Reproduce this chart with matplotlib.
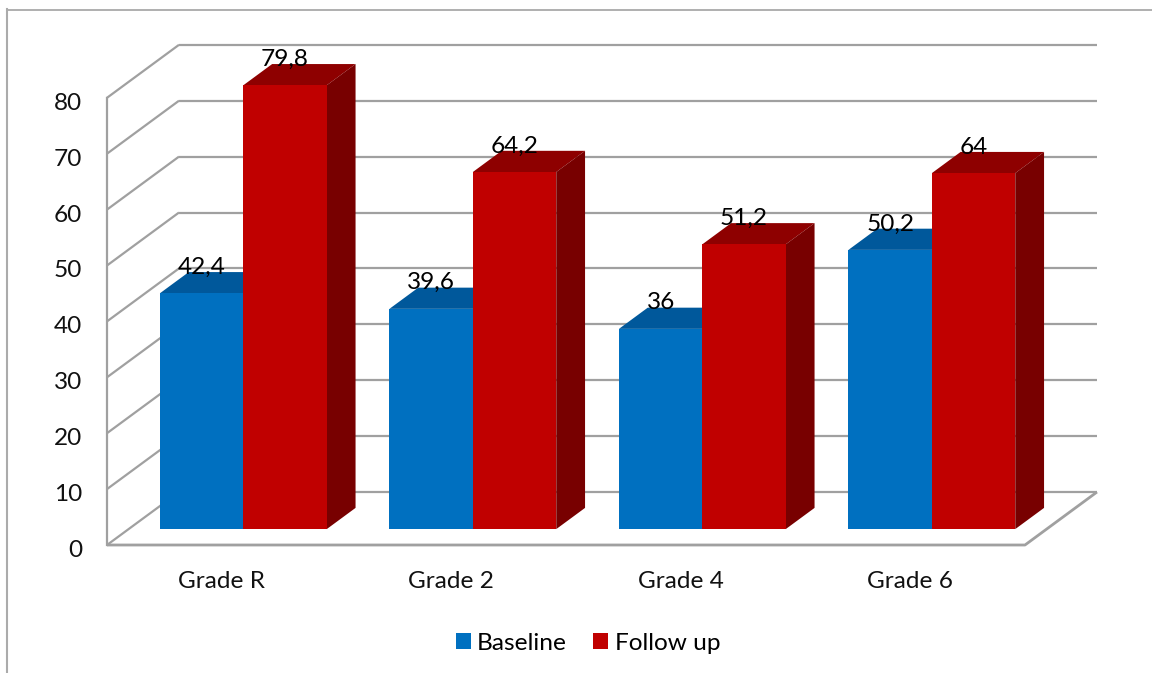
# Grouped pseudo-3D bar chart of baseline and follow up scores per grade
import numpy as np
import matplotlib
matplotlib.use('Agg')
import matplotlib.pyplot as plt
from matplotlib.lines import Line2D
from matplotlib.patches import Patch, Polygon
from matplotlib.transforms import ScaledTranslation

grades = ['Grade R', 'Grade 2', 'Grade 4', 'Grade 6']
baseline = [42.4, 39.6, 36, 50.2]
follow_up = [79.8, 64.2, 51.2, 64]
value_labels_base = ['42,4', '39,6', '36', '50,2']
value_labels_follow = ['79,8', '64,2', '51,2', '64']
y_ticks = [0, 10, 20, 30, 40, 50, 60, 70, 80]

W, H = 1152, 673
plt.rcParams['font.family'] = ['Lato', 'DejaVu Sans']
font_size = 17.6

fig = plt.figure(figsize=(W / 100, H / 100), dpi=100)
ax = fig.add_axes([107 / W, 1 - 545 / H, (1096 - 107) / W, 500 / H])

# axes limits: 229.5 px per category, 5.59 px per value unit
px_x = 229.5
px_y = 5.59
ax.set_xlim(-0.5, -0.5 + (1096 - 107) / px_x)
ax.set_ylim(0, 500 / px_y)

# oblique depth of the chart box and where the bars sit inside it
depth_x = 72 / px_x
depth_y = 53 / px_y
bar_start = 0.30
bar_depth = 0.40
bar_width = 83.4 / px_x
bar_scale = 0.995

grid_color = '#A0A0A0'
grid_lw = 1.6
x_right = len(grades) - 0.5

# back wall, side wall and floor
for t in y_ticks:
    ax.plot([-0.5 + depth_x, x_right + depth_x], [t + depth_y, t + depth_y],
            color=grid_color, lw=grid_lw, clip_on=False, zorder=1, solid_capstyle='butt')
    ax.plot([-0.5, -0.5 + depth_x], [t, t + depth_y],
            color=grid_color, lw=grid_lw, clip_on=False, zorder=1, solid_capstyle='butt')
ax.plot([-0.5, -0.5], [0, y_ticks[-1]], color=grid_color, lw=grid_lw, clip_on=False, zorder=1)
ax.plot([-0.5, x_right, x_right + depth_x], [0, 0, depth_y],
        color=grid_color, lw=grid_lw + 0.4, clip_on=False, zorder=1, solid_capstyle='butt')


def draw_bars(xs, values, front, top, side, z):
    x0 = np.asarray(xs) + bar_start * depth_x
    floor = bar_start * depth_y
    h = np.asarray(values) * bar_scale
    dx = bar_depth * depth_x
    dy = bar_depth * depth_y
    ax.bar(x0, h, bar_width, bottom=floor, align='edge', color=front, lw=0, zorder=z + 1)
    for xi, hi in zip(x0, h):
        ytop = floor + hi
        ax.add_patch(Polygon([(xi, ytop), (xi + dx, ytop + dy),
                              (xi + bar_width + dx, ytop + dy), (xi + bar_width, ytop)],
                             closed=True, fc=top, ec='none', zorder=z))
        ax.add_patch(Polygon([(xi + bar_width, floor), (xi + bar_width + dx, floor + dy),
                              (xi + bar_width + dx, ytop + dy), (xi + bar_width, ytop)],
                             closed=True, fc=side, ec='none', zorder=z))
    return x0, h, floor


positions = np.arange(len(grades))
xb, hb, floor = draw_bars(positions - bar_width, baseline, '#0070C0', '#00589B', '#004A80', 2)
xf, hf, floor = draw_bars(positions, follow_up, '#C00000', '#8E0000', '#780000', 4)

# value labels straddle the top face of each bar
label_gap = 26 / px_y
for xi, hi, lab in zip(xb, hb, value_labels_base):
    ax.text(xi + bar_width / 2, floor + hi + label_gap, lab, ha='center', va='center',
            fontsize=font_size, color='#000000', zorder=8)
for xi, hi, lab in zip(xf, hf, value_labels_follow):
    ax.text(xi + bar_width / 2, floor + hi + label_gap, lab, ha='center', va='center',
            fontsize=font_size, color='#000000', zorder=8)

for spine in ax.spines.values():
    spine.set_visible(False)
ax.patch.set_alpha(0)
ax.set_xticks(positions)
ax.set_xticklabels(grades)
ax.set_yticks(y_ticks)
ax.tick_params(axis='x', length=0, pad=18.5, labelsize=font_size, colors='#111111')
ax.tick_params(axis='y', length=0, pad=18, labelsize=font_size, colors='#111111')

# y labels sit a little below their wall lines
shift_down = ScaledTranslation(0, -2.5 / 72, fig.dpi_scale_trans)
for lab in ax.get_yticklabels():
    lab.set_transform(lab.get_transform() + shift_down)

handles = [Patch(fc='#0070C0', ec='none', label='Baseline'),
           Patch(fc='#C00000', ec='none', label='Follow up')]
ax.legend(handles=handles, ncol=2, frameon=False, loc='center',
          bbox_to_anchor=(588 / W, 1 - 643 / H), bbox_transform=fig.transFigure,
          fontsize=font_size, handlelength=0.62, handleheight=0.62, handletextpad=0.26,
          columnspacing=1.07)

# thin outer frame along the top and left edges
fig.add_artist(Line2D([7 / W, 1], [1 - 9.5 / H, 1 - 9.5 / H], color='#9A9A9A', lw=1.1,
                      transform=fig.transFigure))
fig.add_artist(Line2D([7 / W, 7 / W], [1 - 9 / H, 0], color='#ABABAB', lw=1.5,
                      transform=fig.transFigure))

plt.savefig('out.png', dpi=100)
